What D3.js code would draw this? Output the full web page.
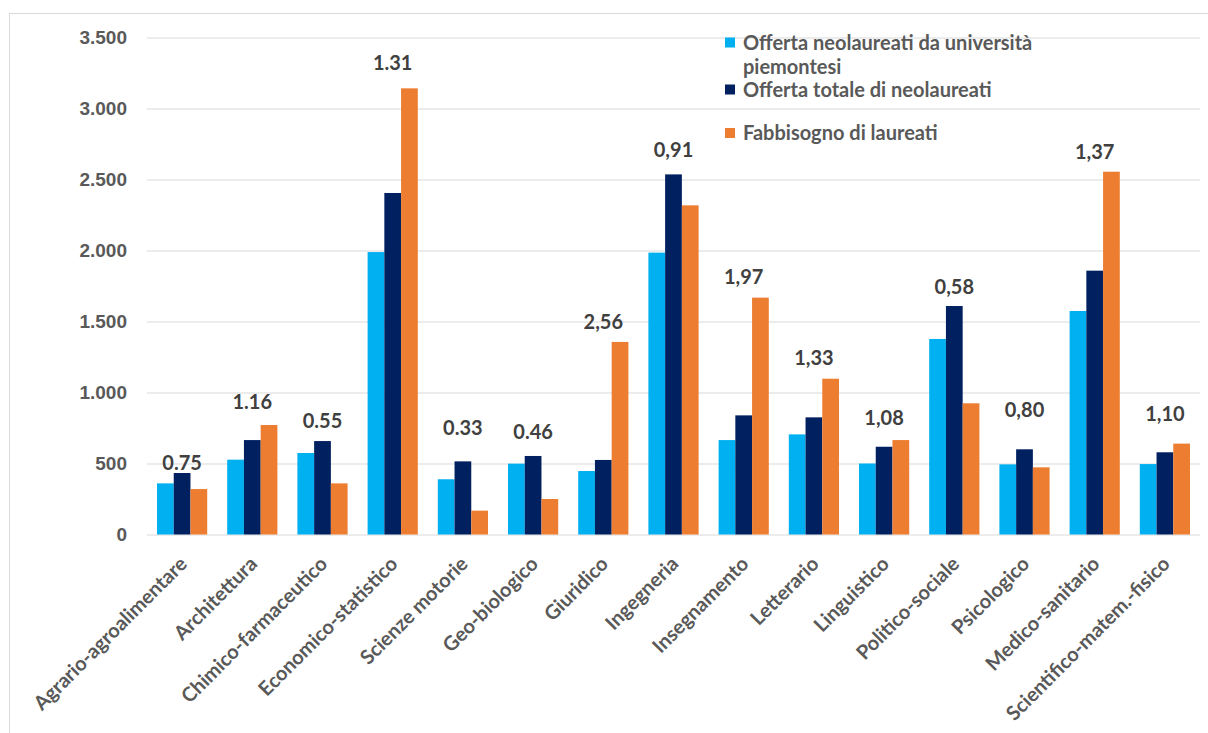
<!DOCTYPE html>
<html>
<head>
<meta charset="utf-8">
<script src="https://cdn.jsdelivr.net/npm/d3@7"></script>
<style>
  body { margin: 0; background: #fff; }
  svg { font-family: Lato, "Open Sans", sans-serif; }
</style>
</head>
<body>
<svg id="chart" width="1208" height="733"></svg>
<script>
// data
var categories = ["Agrario-agroalimentare", "Architettura", "Chimico-farmaceutico", "Economico-statistico",
    "Scienze motorie", "Geo-biologico", "Giuridico", "Ingegneria", "Insegnamento", "Letterario",
    "Linguistico", "Politico-sociale", "Psicologico", "Medico-sanitario", "Scientifico-matem.-fisico"];

var series = ["Offerta neolaureati da università piemontesi", "Offerta totale di neolaureati", "Fabbisogno di laureati"];
var legendLines = [["Offerta neolaureati da università", "piemontesi"], ["Offerta totale di neolaureati"], ["Fabbisogno di laureati"]];

var offertaPiemonte = [360, 527, 574, 1989, 389, 499, 447, 1985, 665, 705, 500, 1377, 494, 1574, 496];
var offertaTotale   = [433, 665, 658, 2405, 515, 553, 525, 2536, 839, 825, 618, 1609, 600, 1858, 579];
var fabbisogno      = [320, 771, 360, 3142, 168, 250, 1356, 2318, 1668, 1097, 665, 924, 473, 2555, 640];

// ratio labels as printed, and the height (in axis units) they sit at
var ratioLabels = ["0.75", "1.16", "0.55", "1.31", "0.33", "0.46", "2,56", "0,91", "1,97", "1,33", "1,08", "0,58", "0,80", "1,37", "1,10"];
var ratioAt = [503, 933, 799, 3320, 750, 722, 1496, 2708, 1813, 1243, 820, 1743, 877, 2694, 849];

var yTicks = [0, 500, 1000, 1500, 2000, 2500, 3000, 3500];
var colors = ["#00B0F0", "#002060", "#ED7D31"];

var svg = d3.select("#chart");
var values = [offertaPiemonte, offertaTotale, fabbisogno];

// outer frame
svg.append("rect")
    .attr("x", 9.5).attr("y", 13.5)
    .attr("width", 1300).attr("height", 800)
    .attr("fill", "none").attr("stroke", "#D9D9D9");

var x = d3.scaleBand().domain(categories).range([147, 1200]).paddingInner(0.285).paddingOuter(0.1425);
var xs = d3.scaleBand().domain(d3.range(series.length)).range([0, x.bandwidth()]);
var y = d3.scaleLinear().domain([0, 3500]).range([534.5, 37.5]);

// grid + y ticks
var yAxis = svg.append("g")
    .attr("transform", "translate(147,0)")
    .call(d3.axisLeft(y).tickValues(yTicks).tickSize(-1053).tickPadding(20)
        .tickFormat(function(d) { return d3.format(",")(d).replace(/,/g, "."); }));
yAxis.select(".domain").remove();
yAxis.selectAll("line").attr("stroke", "#D9D9D9").attr("stroke-width", 1.2);
yAxis.selectAll("text")
    .attr("fill", "#595959")
    .style("font-size", "19px")
    .style("font-weight", "bold");

// bars
var groups = svg.append("g").selectAll("g")
    .data(categories)
    .join("g")
    .attr("transform", function(d) { return "translate(" + x(d) + ",0)"; });

groups.selectAll("rect")
    .data(function(d, i) { return values.map(function(v, s) { return {s: s, v: v[i]}; }); })
    .join("rect")
    .attr("x", function(d) { return xs(d.s); })
    .attr("width", xs.bandwidth())
    .attr("y", function(d) { return y(d.v); })
    .attr("height", function(d) { return y(0) - y(d.v); })
    .attr("fill", function(d) { return colors[d.s]; });

// ratio labels
svg.append("g").selectAll("text")
    .data(categories)
    .join("text")
    .attr("x", function(d) { return x(d) + x.bandwidth() / 2; })
    .attr("y", function(d, i) { return y(ratioAt[i]); })
    .attr("dy", "0.35em")
    .attr("text-anchor", "middle")
    .attr("fill", "#404040")
    .style("font-size", "20px")
    .style("font-weight", "bold")
    .text(function(d, i) { return ratioLabels[i]; });

// category labels
svg.append("g").selectAll("text")
    .data(categories)
    .join("text")
    .attr("transform", function(d) {
        return "translate(" + (x(d) + x.bandwidth() / 2 - 4) + ",555) rotate(-45)";
    })
    .attr("dy", "0.72em")
    .attr("text-anchor", "end")
    .attr("fill", "#595959")
    .style("font-size", "20px")
    .style("font-weight", "bold")
    .text(function(d) { return d; });

// legend
var legendY = [42.5, 89.5, 133];
var legend = svg.append("g").selectAll("g")
    .data(series)
    .join("g")
    .attr("transform", function(d, i) { return "translate(725," + legendY[i] + ")"; });

legend.append("rect")
    .attr("x", 0).attr("y", -5)
    .attr("width", 10).attr("height", 10)
    .attr("fill", function(d, i) { return colors[i]; });

legend.append("text")
    .attr("fill", "#595959")
    .style("font-size", "20px")
    .style("font-weight", "bold")
    .selectAll("tspan")
    .data(function(d, i) { return legendLines[i]; })
    .join("tspan")
    .attr("x", 18)
    .attr("y", function(d, j) { return j * 24; })
    .attr("dy", "0.35em")
    .text(function(d) { return d; });
</script>
</body>
</html>
